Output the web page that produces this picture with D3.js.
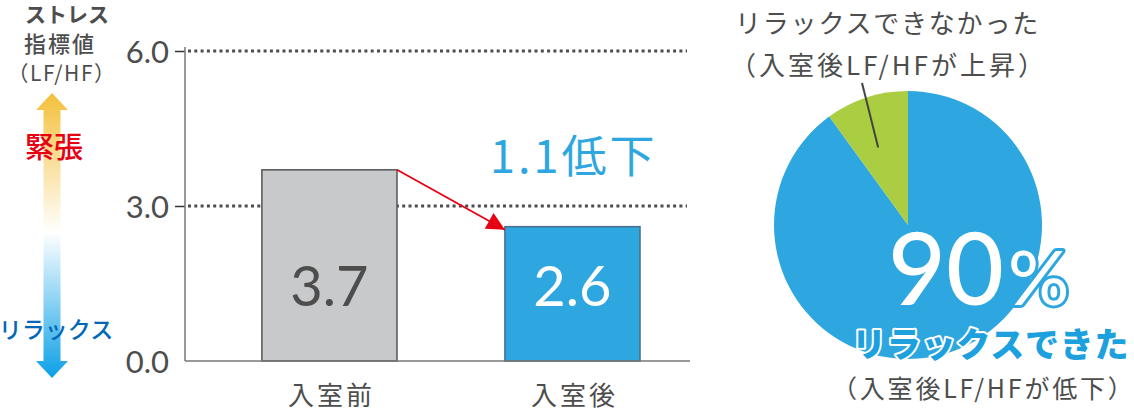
<!DOCTYPE html>
<html><head><meta charset="utf-8">
<script src="https://cdn.jsdelivr.net/npm/d3@7/dist/d3.min.js"></script>
<style>body{margin:0;background:#fff;}svg{display:block;font-family:"Noto Sans CJK JP","Noto Sans",sans-serif;}</style>
</head><body>
<script>
// ---- data ----
const categories = ["入室前", "入室後"];
const values = [3.7, 2.6];
const yTicks = [0, 3, 6];
const gridTicks = [3, 6];
const changeLabel = "1.1低下";
const pieLabels = ["リラックスできた", "リラックスできなかった"];
const pieValues = [90, 10];

const W = 1134, H = 417;
const svg = d3.select("body").append("svg").attr("width", W).attr("height", H);
const gray = "#4d4d4d", blue = "#2ea7e0";

// ---- left gradient arrow ----
const defs = svg.append("defs");
const grad = defs.append("linearGradient").attr("id", "g").attr("x1", 0).attr("y1", 0).attr("x2", 0).attr("y2", 1);
grad.append("stop").attr("offset", "0%").attr("stop-color", "#f4c03a");
grad.append("stop").attr("offset", "49%").attr("stop-color", "#ffffff");
grad.append("stop").attr("offset", "100%").attr("stop-color", "#0aa0e6");
const ax = 52, aTop = 93, aBot = 378, hw = 16, sw = 8.5, hl = 17;
svg.append("path")
  .attr("d", `M${ax},${aTop} L${ax+hw},${aTop+hl} L${ax+sw},${aTop+hl} L${ax+sw},${aBot-hl} L${ax+hw},${aBot-hl} L${ax},${aBot} L${ax-hw},${aBot-hl} L${ax-sw},${aBot-hl} L${ax-sw},${aTop+hl} L${ax-hw},${aTop+hl} Z`)
  .attr("fill", "url(#g)");

svg.append("text").attr("x", 67).attr("y", 22).attr("text-anchor", "middle")
  .attr("font-size", 21).attr("font-weight", 700).attr("fill", gray).text("ストレス");
svg.append("text").attr("x", 60).attr("y", 52).attr("text-anchor", "middle")
  .attr("font-size", 22).attr("font-weight", 500).attr("letter-spacing", 2).attr("fill", gray).text("指標値");
svg.append("text").attr("x", 62).attr("y", 81).attr("text-anchor", "middle")
  .attr("font-size", 21).attr("letter-spacing", 1.5).attr("fill", gray).text("（LF/HF）");
svg.append("text").attr("x", 54).attr("y", 158).attr("text-anchor", "middle")
  .attr("font-size", 29).attr("font-weight", 500).attr("fill", "#e60012").text("緊張");
svg.append("text").attr("x", 56).attr("y", 338).attr("text-anchor", "middle")
  .attr("font-size", 23).attr("font-weight", 500).attr("fill", "#0068b7").text("リラックス");

// ---- bar chart ----
const x0 = 185, x1 = 690, yTop = 51, yBot = 361;
const y = d3.scaleLinear().domain([0, 6]).range([yBot, yTop]);
const x = d3.scaleBand().domain(categories).range([x0, x1])
  .paddingInner(0.444).paddingOuter(0.261).align(0.606);

const g = svg.append("g");
// grid dotted
g.selectAll(".grid").data(gridTicks).join("line")
  .attr("x1", x0 + 3).attr("x2", x1 - 3).attr("y1", d => y(d)).attr("y2", d => y(d))
  .attr("stroke", gray).attr("stroke-width", 3).attr("stroke-dasharray", "3,3.3");

// y axis
const yAxis = d3.axisLeft(y).tickValues(yTicks).tickFormat(d3.format(".1f")).tickSize(10).tickPadding(6);
const ya = g.append("g").attr("transform", `translate(${x0},0)`).call(yAxis);
ya.select(".domain").remove();
ya.selectAll(".tick line").attr("stroke", "#333").attr("stroke-width", 1.5);
ya.selectAll(".tick text").attr("font-size", 31).attr("fill", gray).attr("dy", "0.36em")
  .attr("font-family", "Lato, 'Noto Sans', sans-serif");
ya.selectAll(".tick").filter(d => d === 0).select("line").remove();

// bars
g.selectAll(".bar").data(values).join("rect")
  .attr("x", (d, i) => x(categories[i])).attr("width", x.bandwidth())
  .attr("y", d => y(d)).attr("height", d => yBot - y(d))
  .attr("fill", (d, i) => i === 0 ? "#c8c9ca" : blue)
  .attr("stroke", (d, i) => i === 0 ? "#555" : "#4a6f85").attr("stroke-width", 1.5);

// axis lines
g.append("line").attr("x1", x0).attr("x2", x0).attr("y1", yTop - 4).attr("y2", yBot).attr("stroke", "#777").attr("stroke-width", 1.5);
g.append("line").attr("x1", x0).attr("x2", x1).attr("y1", yBot).attr("y2", yBot).attr("stroke", "#777").attr("stroke-width", 1.5);

// value labels
g.selectAll(".val").data(values).join("text")
  .attr("x", (d, i) => x(categories[i]) + x.bandwidth() / 2).attr("y", 306)
  .attr("text-anchor", "middle").attr("font-size", 56)
  .attr("font-family", "Lato, 'Noto Sans', sans-serif")
  .attr("fill", (d, i) => i === 0 ? gray : "#fff").text(d => d.toFixed(1));

// category labels
g.selectAll(".cat").data(categories).join("text")
  .attr("x", d => x(d) + x.bandwidth() / 2 + 2).attr("y", 405)
  .attr("text-anchor", "middle").attr("font-size", 26).attr("letter-spacing", 3)
  .attr("fill", gray).text(d => d);

// change arrow
defs.append("marker").attr("id", "ah").attr("viewBox", "0 0 10 10").attr("refX", 10).attr("refY", 5)
  .attr("markerWidth", 22).attr("markerHeight", 18).attr("markerUnits", "userSpaceOnUse").attr("orient", "auto")
  .append("path").attr("d", "M0,0 L10,5 L0,10 Z").attr("fill", "#e60012");
const ax1 = x(categories[0]) + x.bandwidth(), ay1 = y(values[0]);
const ax2 = x(categories[1]), ay2 = y(values[1]) + 3;
g.append("line").attr("x1", ax1).attr("y1", ay1).attr("x2", ax2).attr("y2", ay2)
  .attr("stroke", "#e60012").attr("stroke-width", 1.8).attr("marker-end", "url(#ah)");

g.append("text").attr("x", 490).attr("y", 173).attr("font-size", 45).attr("letter-spacing", 3)
  .attr("fill", blue).text(changeLabel);

// ---- pie ----
const cx = 908, cy = 225, r = 134;
const pie = d3.pie().sort(null).value(d => d)(pieValues);
const arc = d3.arc().innerRadius(0).outerRadius(r);
const pg = svg.append("g").attr("transform", `translate(${cx},${cy})`);
pg.selectAll("path").data(pie).join("path").attr("d", arc)
  .attr("fill", (d, i) => i === 0 ? blue : "#aacd42");

const c = d3.arc().innerRadius(0).outerRadius(r * 1.2).centroid(pie[1]);
pg.append("line").attr("x1", -46).attr("y1", -142).attr("x2", c[0] - 5).attr("y2", c[1] - 1)
  .attr("stroke", "#444").attr("stroke-width", 2);

svg.append("text").attr("x", 735).attr("y", 33).attr("font-size", 26).attr("letter-spacing", 1.8)
  .attr("fill", gray).text(pieLabels[1]);
svg.append("text").attr("x", 730).attr("y", 75).attr("font-size", 26).attr("letter-spacing", 3)
  .attr("fill", gray).text("（入室後LF/HFが上昇）");

const pct = svg.append("text").attr("x", 888).attr("y", 305).attr("fill", "#fff")
  .attr("stroke", blue).attr("stroke-width", 6).attr("paint-order", "stroke").attr("stroke-linejoin", "round")
  .attr("font-family", "Lato, 'Noto Sans', sans-serif").attr("font-weight", 500);
pct.append("tspan").attr("font-size", 100).text(pieValues[0]);
pct.append("tspan").attr("font-size", 76).attr("dx", 4).text("%");

svg.append("text").attr("x", 852).attr("y", 357).attr("font-size", 34).attr("font-weight", 900)
  .attr("letter-spacing", 0.8)
  .attr("fill", "#1ca0de").attr("stroke", "#fff").attr("stroke-width", 4).attr("paint-order", "stroke")
  .attr("stroke-linejoin", "round").text(pieLabels[0]);
svg.append("text").attr("x", 832).attr("y", 398).attr("font-size", 25).attr("letter-spacing", 2.8)
  .attr("fill", gray).text("（入室後LF/HFが低下）");
</script>
</body></html>
